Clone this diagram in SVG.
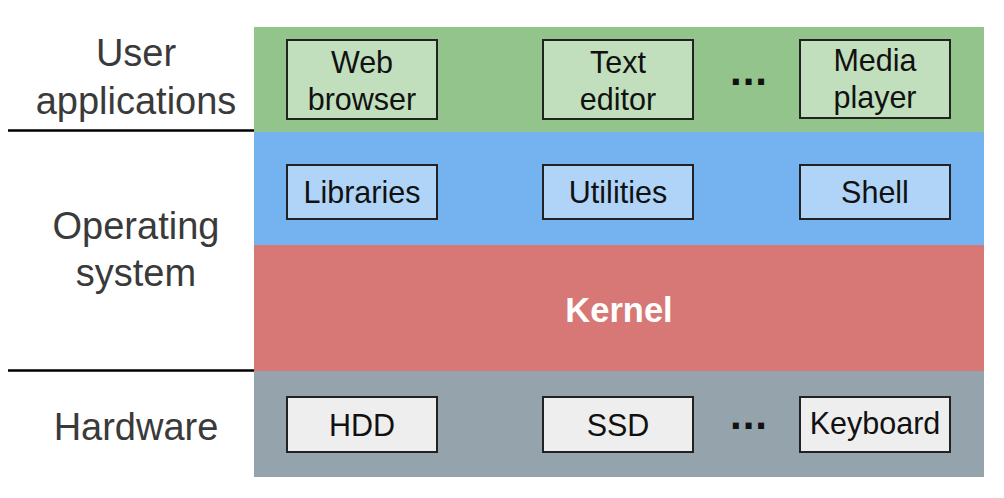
<svg xmlns="http://www.w3.org/2000/svg" width="1004" height="498" viewBox="0 0 1004 498">
<style>
.lbl{font-family:"Liberation Sans",Arial,sans-serif;font-size:38px;fill:#3a3a3a;text-anchor:middle}
.bt{font-family:"Liberation Sans",Arial,sans-serif;font-size:30.5px;fill:#111;text-anchor:middle}
.box{stroke:#222;stroke-width:2}
.dots{font-family:"Liberation Sans",Arial,sans-serif;font-size:42px;font-weight:bold;fill:#111;text-anchor:middle;letter-spacing:1px}
</style>
<rect width="1004" height="498" fill="#fff"/>
<g id="layer-apps"><rect x="254" y="27" width="730" height="105" fill="#93c48b"/></g>
<g id="layer-sys"><rect x="254" y="132" width="730" height="113" fill="#74b3f0"/></g>
<g id="layer-kernel"><rect x="254" y="245" width="730" height="126" fill="#d77876"/>
<text x="619" y="322" font-family="Liberation Sans,Arial,sans-serif" font-size="34.5" font-weight="bold" fill="#fff" text-anchor="middle">Kernel</text></g>
<g id="layer-hw"><rect x="254" y="371" width="730" height="106" fill="#95a3ad"/></g>
<g id="labels">
<text class="lbl" x="136" y="66">User</text>
<text class="lbl" x="136" y="114">applications</text>
<text class="lbl" x="136" y="239">Operating</text>
<text class="lbl" x="136" y="286">system</text>
<text class="lbl" x="136" y="440">Hardware</text>
<line x1="8" y1="130.5" x2="254" y2="130.5" stroke="#000" stroke-width="2.5"/>
<line x1="8" y1="370.5" x2="254" y2="370.5" stroke="#000" stroke-width="2.5"/>
</g>
<g id="web"><rect class="box" x="287" y="40" width="150" height="79" fill="#c1dfbd"/><text class="bt" x="362" y="73">Web</text><text class="bt" x="362" y="110">browser</text></g>
<g id="text"><rect class="box" x="543" y="40" width="150" height="79" fill="#c1dfbd"/><text class="bt" x="618" y="73">Text</text><text class="bt" x="618" y="110">editor</text></g>
<g id="media"><rect class="box" x="800" y="40" width="150" height="78" fill="#c1dfbd"/><text class="bt" x="875" y="71">Media</text><text class="bt" x="875" y="108">player</text></g>
<text class="dots" x="749" y="85">...</text>
<g id="libs"><rect class="box" x="287" y="165" width="150" height="54" fill="#b0d4f7"/><text class="bt" x="362" y="203">Libraries</text></g>
<g id="utils"><rect class="box" x="543" y="165" width="150" height="54" fill="#b0d4f7"/><text class="bt" x="618" y="203">Utilities</text></g>
<g id="shell"><rect class="box" x="800" y="165" width="150" height="54" fill="#b0d4f7"/><text class="bt" x="875" y="203">Shell</text></g>
<g id="hdd"><rect class="box" x="287" y="397" width="150" height="55" fill="#eeeeee"/><text class="bt" x="362" y="436">HDD</text></g>
<g id="ssd"><rect class="box" x="543" y="397" width="150" height="55" fill="#eeeeee"/><text class="bt" x="618" y="436">SSD</text></g>
<g id="kbd"><rect class="box" x="800" y="397" width="150" height="55" fill="#eeeeee"/><text class="bt" x="875" y="434">Keyboard</text></g>
<text class="dots" x="749" y="429">...</text>
<g id="connectors"></g>
</svg>
